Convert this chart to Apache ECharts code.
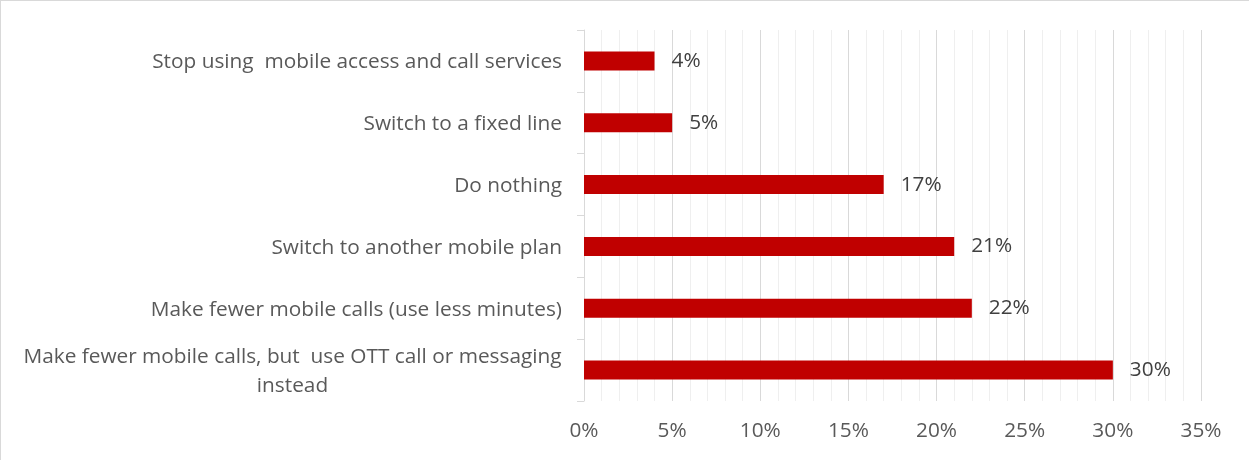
<!DOCTYPE html>
<html>
<head>
<meta charset="utf-8">
<script src="https://cdn.jsdelivr.net/npm/echarts@6/dist/echarts.min.js"></script>
<style>
  html, body { margin: 0; padding: 0; background: #fff; }
  #chart { width: 1249px; height: 460px; box-sizing: border-box; border-top: 1px solid #d9d9d9; border-left: 1px solid #d9d9d9; }
</style>
</head>
<body>
<div id="chart"></div>
<script>
// Responses, top to bottom
const categories = [
  'Stop using  mobile access and call services',
  'Switch to a fixed line',
  'Do nothing',
  'Switch to another mobile plan',
  'Make fewer mobile calls (use less minutes)',
  'Make fewer mobile calls, but  use OTT call or messaging\ninstead'
];
// Share of respondents, percent
const values = [4, 5, 17, 21, 22, 30];

const FONT = 'Open Sans';
const FS = 20.8;

// Width of the widest line of a wrapped label, so the lines can be centred on each other
function lineWidth(text) {
  const ctx = document.createElement('canvas').getContext('2d');
  ctx.font = FS + 'px "' + FONT + '"';
  return Math.ceil(ctx.measureText(text).width);
}

const chart = echarts.init(document.getElementById('chart'), null, { renderer: 'canvas' });

function catLabel(value) {
  if (value.indexOf('\n') < 0) return value;
  return value.split('\n').map(l => '{w|' + l + '}').join('\n');
}

function build() {
  const wrapped = categories.find(c => c.indexOf('\n') >= 0);
  const w = wrapped ? Math.max(...wrapped.split('\n').map(lineWidth)) : 0;
  chart.setOption({
    animation: false,
    grid: { left: 583, right: 48, top: 29, bottom: 59, containLabel: false },
    xAxis: {
      type: 'value',
      min: 0,
      max: 35,
      interval: 5,
      axisLine: { show: false },
      axisTick: { show: false },
      axisLabel: {
        formatter: '{value}%',
        color: '#595959',
        fontFamily: FONT,
        fontSize: FS,
        margin: 20
      },
      splitLine: { show: true, lineStyle: { color: '#d9d9d9', width: 1 } },
      minorTick: { show: true, splitNumber: 5, length: 0, lineStyle: { opacity: 0 } },
      minorSplitLine: { show: true, lineStyle: { color: '#efefef', width: 1 } }
    },
    yAxis: {
      type: 'category',
      data: categories,
      inverse: true,
      axisLine: { show: true, lineStyle: { color: '#d9d9d9', width: 1 } },
      axisTick: { show: true, length: 7, lineStyle: { color: '#d9d9d9' } },
      axisLabel: {
        color: '#595959',
        fontFamily: FONT,
        fontSize: FS,
        margin: 22,
        lineHeight: 29,
        padding: [3, 0, 0, 0],
        formatter: catLabel,
        rich: {
          w: { width: w, align: 'center', color: '#595959', fontFamily: FONT, fontSize: FS, lineHeight: 29 }
        }
      },
      splitLine: { show: false }
    },
    series: [{
      type: 'bar',
      data: values,
      barWidth: 19,
      itemStyle: { color: '#c00000' },
      label: {
        show: true,
        position: 'right',
        distance: 17,
        padding: [3, 0, 0, 0],
        formatter: '{c}%',
        color: '#404040',
        fontFamily: FONT,
        fontSize: FS
      }
    }]
  });
}

if (document.fonts && document.fonts.load) {
  document.fonts.load(FS + 'px "' + FONT + '"').then(build, build);
} else {
  build();
}
</script>
</body>
</html>
